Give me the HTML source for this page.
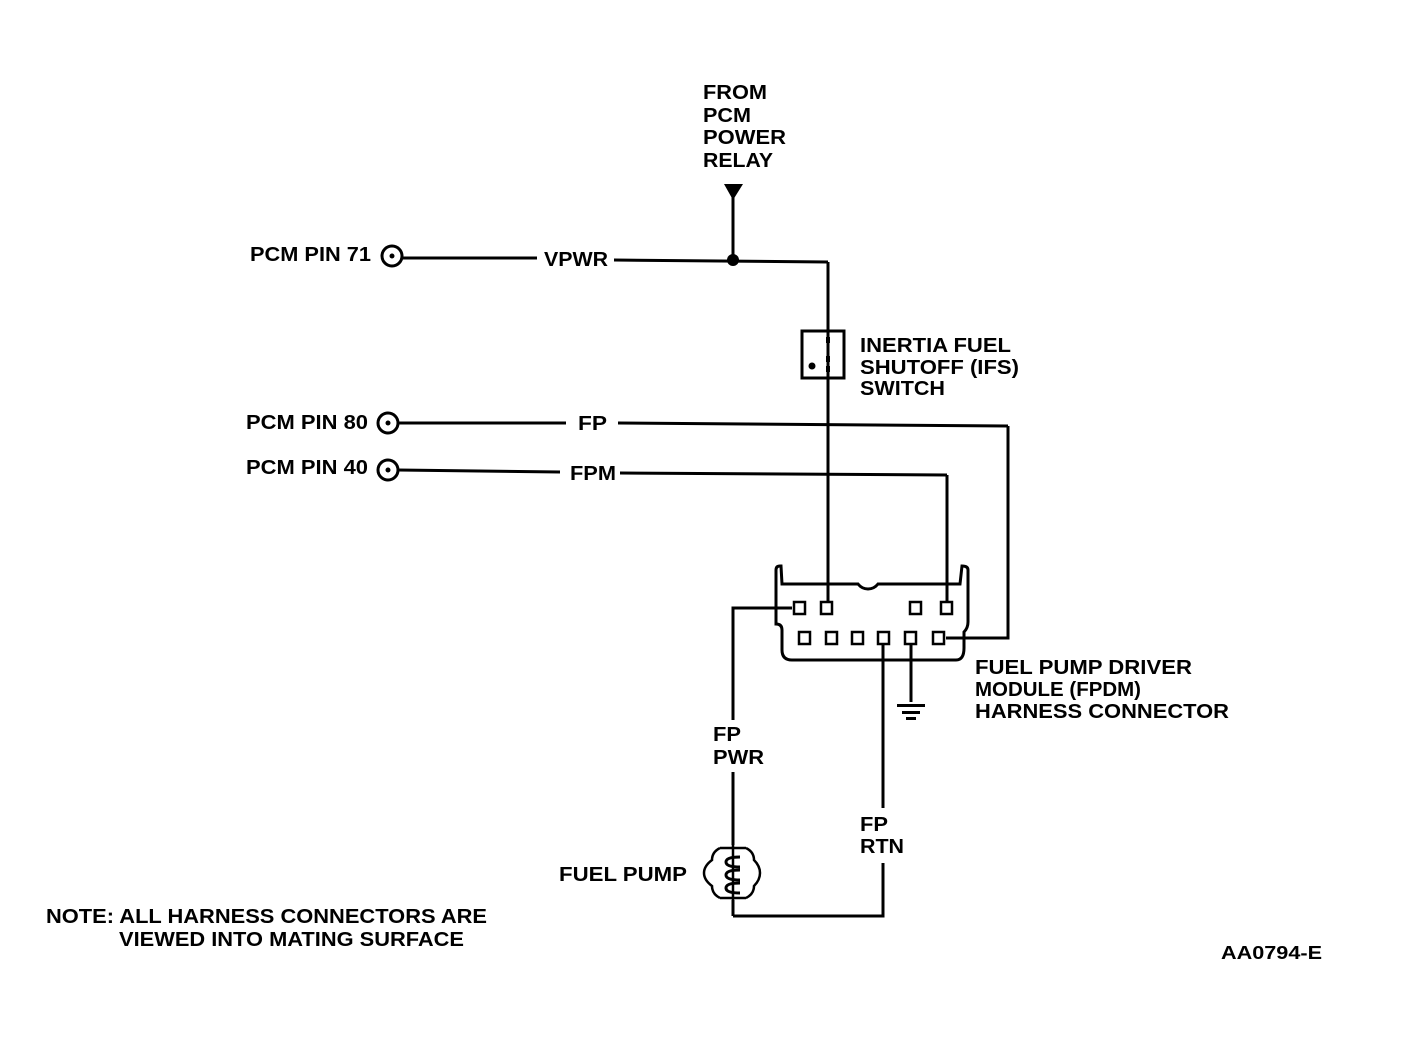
<!DOCTYPE html>
<html><head><meta charset="utf-8"><style>
html,body{margin:0;padding:0;background:#fff;}
svg{display:block}
text{font-family:"Liberation Sans",Arial,sans-serif;font-weight:bold;font-size:20px;fill:#000}
</style></head><body>
<svg width="1408" height="1046" viewBox="0 0 1408 1046" xmlns="http://www.w3.org/2000/svg">
<g fill="none" stroke="#000" stroke-width="3">
<circle cx="392" cy="256" r="10"/>
<line x1="402" y1="258" x2="537" y2="258"/>
<line x1="614" y1="260" x2="828" y2="262"/>
<line x1="733" y1="195" x2="733" y2="260"/>
<line x1="828" y1="262" x2="828" y2="603"/>
<rect x="802" y="331" width="42" height="47"/>
<circle cx="388" cy="423" r="10"/>
<line x1="398" y1="423" x2="566" y2="423"/>
<line x1="618" y1="423" x2="1008" y2="426"/>
<polyline points="1008,426 1008,638 946,638"/>
<circle cx="388" cy="470" r="10"/>
<line x1="398" y1="470" x2="560" y2="472"/>
<line x1="620" y1="473" x2="947" y2="475"/>
<line x1="947" y1="475" x2="947" y2="603"/>
<path d="M776,606 L776,570 Q776,566 780,566 L781,566 L782,584 L858,584 Q862,589 868,589 Q874,589 878,584 L960,584 L962,566 Q968,566 968,570 L968,606"/>
<path d="M776,606 L776,624 Q782,624 782,630 L782,650 Q782,660 792,660 L956,660 Q964,660 964,648 L964,632 Q968,628 968,622 L968,606"/>
<polyline points="792,608 733,608 733,720"/>
<line x1="733" y1="772" x2="733" y2="845"/>
<line x1="733" y1="900" x2="733" y2="916"/>
<polyline points="733,916 883,916 883,863"/>
<line x1="883" y1="644" x2="883" y2="808"/>
<line x1="911" y1="644" x2="911" y2="702"/>
</g>
<g fill="none" stroke="#000" stroke-width="2.5">
<rect x="794" y="602" width="11" height="12"/>
<rect x="821" y="602" width="11" height="12"/>
<rect x="910" y="602" width="11" height="12"/>
<rect x="941" y="602" width="11" height="12"/>
<rect x="799" y="632" width="11" height="12"/>
<rect x="826" y="632" width="11" height="12"/>
<rect x="852" y="632" width="11" height="12"/>
<rect x="878" y="632" width="11" height="12"/>
<rect x="905" y="632" width="11" height="12"/>
<rect x="933" y="632" width="11" height="12"/>
<path d="M733,845 L733,900 M720,848 Q712,852 712,860 Q704,866 704,873 Q704,880 712,886 Q712,894 720,898 M746,848 Q754,852 754,860 Q760,866 760,873 Q760,880 754,886 Q754,894 746,898 M720,848 L746,848 M720,898 L746,898"/>
<path d="M740,857 Q726,857 726,862 Q726,867 740,867 M740,870 Q726,870 726,875 Q726,880 740,880 M740,883 Q726,883 726,888 Q726,893 740,893" stroke-width="3"/>
</g>
<g fill="#000">
<circle cx="392" cy="256" r="2.5"/><circle cx="388" cy="423" r="2.5"/><circle cx="388" cy="470" r="2.5"/>
<circle cx="733" cy="260" r="6"/>
<polygon points="724,184 743,184 733,200"/>
<circle cx="812" cy="366" r="3.5"/>
<rect x="826" y="337" width="4" height="6"/><rect x="826" y="356" width="4" height="6"/><rect x="826" y="366" width="4" height="6"/>
<rect x="897" y="704" width="28" height="3"/>
<rect x="902" y="711" width="18" height="3"/>
<rect x="906" y="717" width="10" height="3"/>
</g>
<g lengthAdjust="spacingAndGlyphs">
<text x="703" y="99" textLength="64" lengthAdjust="spacingAndGlyphs">FROM</text>
<text x="703" y="122" textLength="48" lengthAdjust="spacingAndGlyphs">PCM</text>
<text x="703" y="144" textLength="83" lengthAdjust="spacingAndGlyphs">POWER</text>
<text x="703" y="167" textLength="70" lengthAdjust="spacingAndGlyphs">RELAY</text>
<text x="250" y="261" textLength="121" lengthAdjust="spacingAndGlyphs">PCM PIN 71</text>
<text x="544" y="266" textLength="64" lengthAdjust="spacingAndGlyphs">VPWR</text>
<text x="246" y="429" textLength="122" lengthAdjust="spacingAndGlyphs">PCM PIN 80</text>
<text x="578" y="430" textLength="29" lengthAdjust="spacingAndGlyphs">FP</text>
<text x="246" y="474" textLength="122" lengthAdjust="spacingAndGlyphs">PCM PIN 40</text>
<text x="570" y="480" textLength="46" lengthAdjust="spacingAndGlyphs">FPM</text>
<text x="860" y="352" textLength="151" lengthAdjust="spacingAndGlyphs">INERTIA FUEL</text>
<text x="860" y="374" textLength="159" lengthAdjust="spacingAndGlyphs">SHUTOFF (IFS)</text>
<text x="860" y="395" textLength="85" lengthAdjust="spacingAndGlyphs">SWITCH</text>
<text x="975" y="674" textLength="217" lengthAdjust="spacingAndGlyphs">FUEL PUMP DRIVER</text>
<text x="975" y="696" textLength="166" lengthAdjust="spacingAndGlyphs">MODULE (FPDM)</text>
<text x="975" y="718" textLength="254" lengthAdjust="spacingAndGlyphs">HARNESS CONNECTOR</text>
<text x="713" y="741" textLength="28" lengthAdjust="spacingAndGlyphs">FP</text>
<text x="713" y="764" textLength="51" lengthAdjust="spacingAndGlyphs">PWR</text>
<text x="860" y="831" textLength="28" lengthAdjust="spacingAndGlyphs">FP</text>
<text x="860" y="853" textLength="44" lengthAdjust="spacingAndGlyphs">RTN</text>
<text x="559" y="881" textLength="128" lengthAdjust="spacingAndGlyphs">FUEL PUMP</text>
<text x="46" y="923" textLength="441" lengthAdjust="spacingAndGlyphs">NOTE: ALL HARNESS CONNECTORS ARE</text>
<text x="119" y="946" textLength="345" lengthAdjust="spacingAndGlyphs">VIEWED INTO MATING SURFACE</text>
<text x="1221" y="959" textLength="101" lengthAdjust="spacingAndGlyphs" style="font-size:18px">AA0794-E</text>
</g>
</svg>
</body></html>
